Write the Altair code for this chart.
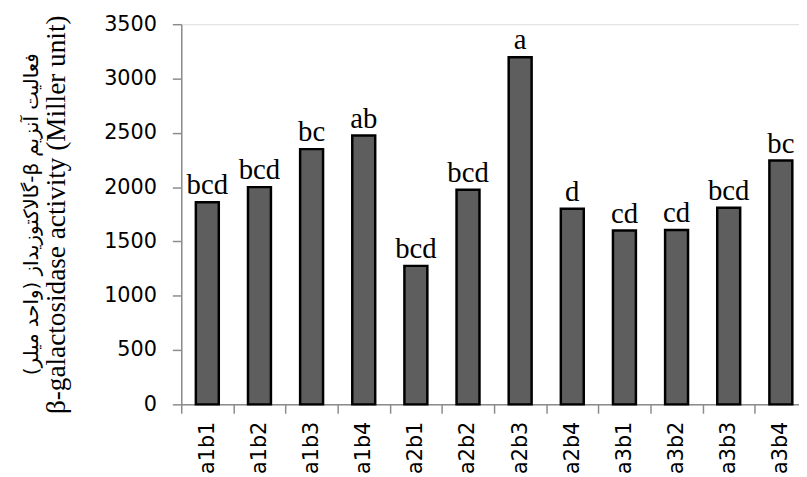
import altair as alt
import pandas as pd

categories = ["a1b1", "a1b2", "a1b3", "a1b4", "a2b1", "a2b2",
              "a2b3", "a2b4", "a3b1", "a3b2", "a3b3", "a3b4"]
values = [1860, 2000, 2350, 2475, 1275, 1975, 3195, 1800, 1600, 1605, 1810, 2245]
letters = ["bcd", "bcd", "bc", "ab", "bcd", "bcd", "a", "d", "cd", "cd", "bcd", "bc"]
y_ticks = [0, 500, 1000, 1500, 2000, 2500, 3000, 3500]
title_fa = "\u202B" + "فعالیت آنزیم β-گالاکتوزیداز (واحد میلر)" + "\u202C"
title_en = "β-galactosidase activity (Miller unit)"

df = pd.DataFrame({"cat": categories, "val": values, "lab": letters})

x_enc = alt.X("cat:N", sort=categories, title=None,
              scale=alt.Scale(range=[0, 632], paddingInner=0, paddingOuter=0),
              axis=alt.Axis(labelAngle=-90, labelAlign="right", labelBaseline="middle",
                            labelFont="DejaVu Sans", labelFontSize=21, labelColor="#000",
                            labelPadding=8, tickBand="extent", tickSize=9,
                            tickColor="#8c8c8c", domainColor="#8c8c8c",
                            tickWidth=1.5, domainWidth=1.5, labelOverlap=False))

y_enc = alt.Y("val:Q", title=title_en,
              scale=alt.Scale(domain=[0, 3500], nice=False),
              axis=alt.Axis(values=y_ticks, format="d", grid=False, labelFont="DejaVu Sans",
                            labelFontSize=21, labelColor="#000", labelPadding=16,
                            tickSize=9, tickColor="#8c8c8c", domainColor="#8c8c8c",
                            tickWidth=1.5, domainWidth=1.5,
                            titleFont="Liberation Serif", titleFontSize=27.5,
                            titleFontWeight="normal", titleColor="#000",
                            titlePadding=33, titleLimit=600))

bars = alt.Chart(df).mark_bar(width={"band": 0.44}, fill="#5e5e5e",
                              stroke="#000", strokeWidth=2.5).encode(x=x_enc, y=y_enc)

texts = alt.Chart(df).mark_text(font="Liberation Serif", fontSize=29, baseline="alphabetic",
                                dy=-8, color="#000").encode(x=x_enc, y=y_enc, text="lab:N")

chart = (bars + texts).properties(
    width=624, height=384,
    title=alt.TitleParams(text=title_fa, orient="left", anchor="middle",
                          font="DejaVu Sans", fontSize=20, fontWeight="normal",
                          color="#000", offset=1, limit=600),
    autosize=alt.AutoSizeParams(type="none"),
    padding={"left": 175, "top": 14, "right": 0, "bottom": 71},
).configure_view(stroke=None).configure(background="#ffffff")

chart.save("out.html", embed_options={"renderer": "svg", "actions": False})
